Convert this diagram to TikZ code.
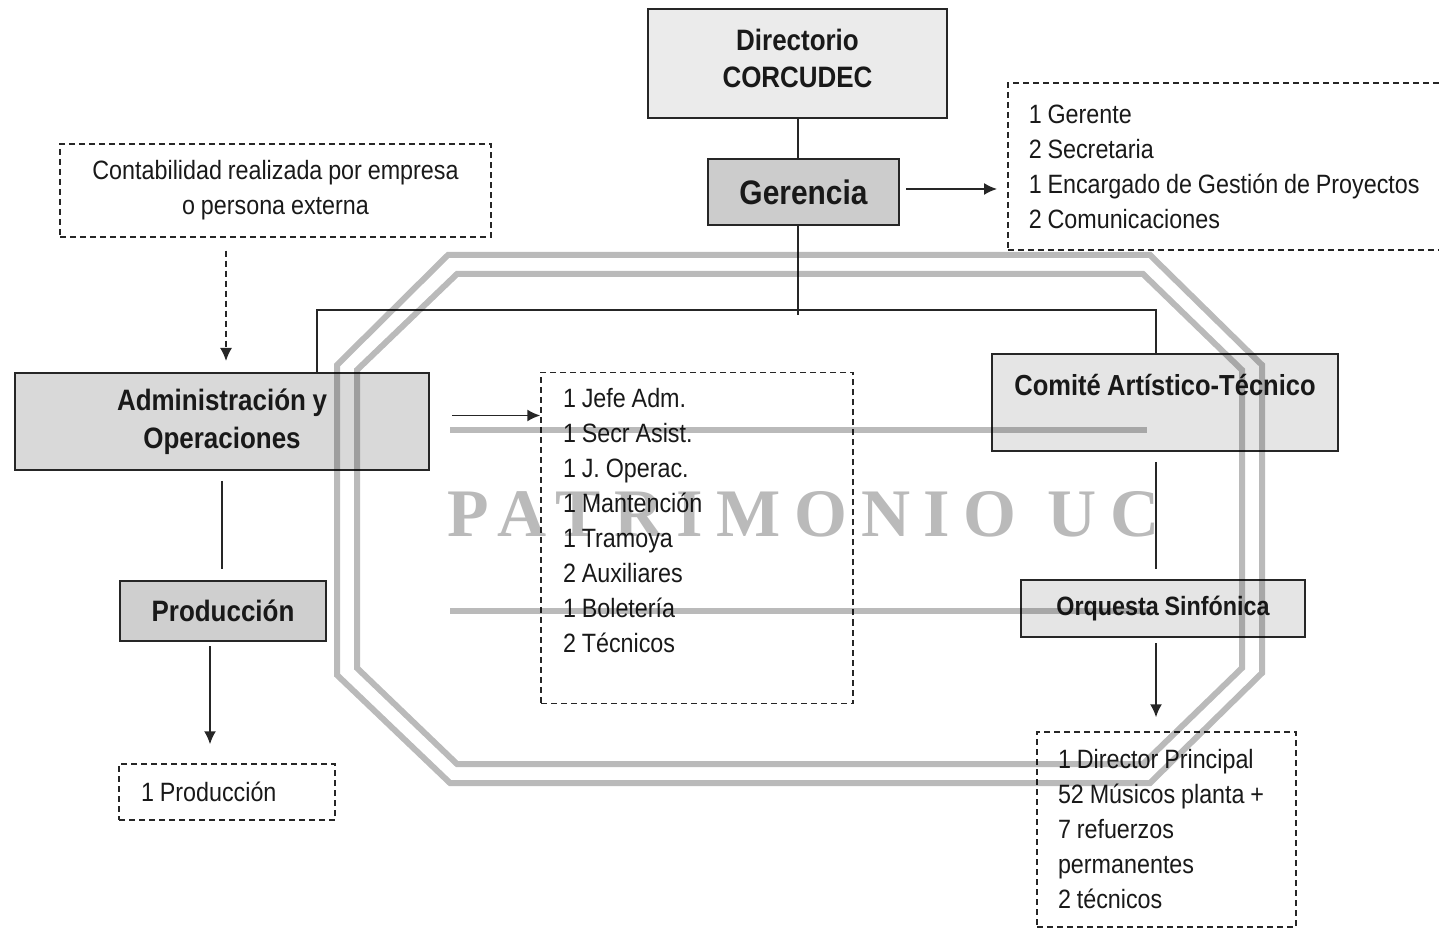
\documentclass[tikz,border=0pt]{standalone}
\usepackage{fontspec}
\setmainfont[FakeStretch=0.88, WordSpace=0.9]{Liberation Sans}
\newfontfamily\wmfont[LetterSpace=20]{Liberation Serif}
\usetikzlibrary{positioning, arrows.meta}

\tikzset{
  unitbox/.style={draw=black!85, line width=1pt, align=center, text=black!90,
    font=\bfseries\fontsize{14.75}{18.5}\selectfont},
  listbox/.style={draw=black!85, line width=0.75pt, dash pattern=on 3pt off 2pt,
    align=flush left, text=black!90, font=\fontsize{13.25}{17.5}\selectfont},
  link/.style={draw=black!85, line width=0.8pt},
  wmline/.style={draw=black!27, line width=3pt, line join=miter}
}

\begin{document}
\begin{tikzpicture}[x=0.5pt, y=-0.5pt, >={Latex[length=6.5pt,width=6pt]}, on grid]
    \useasboundingbox (0,0) rectangle (1439,929);

    % top of the chart
    \node[unitbox, fill=black!8, minimum width=149.5pt, minimum height=54.5pt, text depth=5pt] (dir) at (797.5,63.5) {Directorio\\CORCUDEC};
    \node[unitbox, fill=black!20, minimum width=95.5pt, minimum height=33pt,
          font=\bfseries\fontsize{17}{20}\selectfont] (ger) [below=64.25pt of dir, xshift=3pt] {Gerencia};
    \node[listbox, anchor=west, text width=210pt, inner xsep=10.5pt, minimum height=83.5pt] (ger_list) at (1007,166.5)
        {1 Gerente\\2 Secretaria\\1 Encargado de Gestión de Proyectos\\2 Comunicaciones};
    \node[listbox, align=center, minimum width=215.5pt, minimum height=46.5pt] (conta) at (275.5,190.5)
        {Contabilidad realizada por empresa\\o persona externa};

    % left branch
    \node[unitbox, fill=black!15, minimum width=207pt, minimum height=48.5pt,
          font=\bfseries\fontsize{14.75}{19}\selectfont] (adm) at (222,421.5) {Administración y\\Operaciones};
    \node[listbox, text width=134pt, inner xsep=11pt, minimum height=165.5pt] (adm_list) at (697,538)
        {1 Jefe Adm.\\1 Secr Asist.\\1 J. Operac.\\1 Mantención\\1 Tramoya\\2 Auxiliares\\1 Boletería\\2 Técnicos\\\mbox{}};
    \node[unitbox, fill=black!19, minimum width=103pt, minimum height=30pt] (prod) [below=94.75pt of adm, xshift=0.5pt] {Producción};
    \node[listbox, text width=86pt, inner xsep=11pt, minimum height=28pt] (prod_list) at (227,792) {1 Producción};

    % right branch
    \node[unitbox, fill=black!10, minimum width=173pt, minimum height=48.5pt,
          font=\bfseries\fontsize{14.5}{17.5}\selectfont] (com) at (1165,402.5) {Comité Artístico-Técnico\\\mbox{}};
    \node[unitbox, fill=black!10, minimum width=142pt, minimum height=28.5pt,
          font=\bfseries\fontsize{13.25}{16}\selectfont] (orq) at (1163,608.5) {Orquesta Sinfónica};
    \node[listbox, text width=108.5pt, inner xsep=10.5pt, minimum height=97.5pt] (mus_list) at (1166.5,829.5)
        {1 Director Principal\\52 Músicos planta +\\7 refuerzos\\permanentes\\2 técnicos};

    \coordinate (hub) at (798,315);
    \coordinate (bus_l) at (317,310);
    \coordinate (bus_r) at (1156,310);

    \draw[link] (dir.south -| hub) -- (ger.north -| hub);
    \draw[link] (ger.south -| hub) -- (hub);
    \draw[link] (adm.north -| bus_l) -- (bus_l) -- (bus_r) -- (com.north -| bus_r);
    \draw[link, shorten <=5pt, shorten >=5.5pt] (adm.south) -- (adm.south |- prod.north);
    \draw[link, shorten <=5pt, shorten >=5pt] (com.south -| bus_r) -- (orq.north -| bus_r);
        \path[->, every edge/.append style={link}]
        ([yshift=1.5pt]ger.east) edge[shorten <=3pt, shorten >=5pt] ([yshift=1.5pt]ger.east -| ger_list.west)
        ([yshift=3pt]adm.east) edge[shorten <=11pt] ([yshift=3pt]adm.east -| adm_list.west)
        ([xshift=-6.5pt]prod.south) edge[shorten <=2pt, shorten >=9.5pt] ([xshift=-6.5pt]prod.south |- prod_list.north)
        (orq.south -| bus_r) edge[shorten <=2.5pt, shorten >=7pt] (mus_list.north -| bus_r)
        ([xshift=2pt]adm.north |- conta.south) edge[dash pattern=on 3pt off 2pt, shorten <=6.5pt, shorten >=5.5pt] ([xshift=2pt]adm.north);

    % watermark
    \begin{scope}[blend mode=multiply]
    \draw[wmline] (448,255) -- (1150,255) -- (1262,365) -- (1262,673) -- (1150,783) -- (450,783) -- (337,675) -- (337,365) -- cycle;
    \draw[wmline] (457,274) -- (1143,274) -- (1242,370) -- (1242,668) -- (1143,764) -- (457,764) -- (357,668) -- (357,370) -- cycle;
    \draw[wmline] (450,430) -- (1147,430);
    \draw[wmline] (450,611) -- (1150,611);
    \node[text=black!27, inner sep=0pt, anchor=base west, font=\wmfont\bfseries\fontsize{34}{34}\selectfont] (wm) at (447,537) {PATRIMONIO UC};
    \end{scope}

\end{tikzpicture}
\end{document}
